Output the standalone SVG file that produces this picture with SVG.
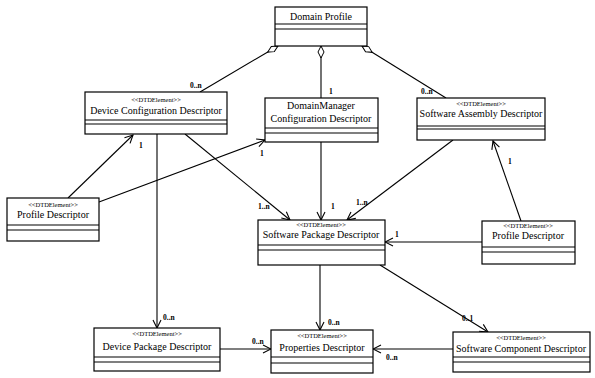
<svg xmlns="http://www.w3.org/2000/svg" width="595" height="378" viewBox="0 0 595 378">
<style>
.box{fill:#fff;stroke:#000;stroke-width:1.2}
.sep{stroke:#000;stroke-width:1.1}
.st{font-family:'Liberation Serif','DejaVu Serif','Times New Roman',serif;font-size:6.5px;text-anchor:middle}
.nm{font-family:'Liberation Serif','DejaVu Serif','Times New Roman',serif;font-size:10px;text-anchor:middle}
.lb{font-family:'Liberation Serif','DejaVu Serif','Times New Roman',serif;font-size:7.5px;font-weight:bold}
.ln{stroke:#000;stroke-width:1.1;fill:none}
</style>
<defs>
<marker id="arr" markerWidth="10" markerHeight="10" refX="9" refY="5" orient="auto" markerUnits="userSpaceOnUse">
<path d="M1,1 L9,5 L1,9" fill="none" stroke="#000" stroke-width="1.1"/>
</marker>
<marker id="dia" markerWidth="14" markerHeight="8" refX="1" refY="4" orient="auto" markerUnits="userSpaceOnUse">
<path d="M1,4 L7,1 L13,4 L7,7 Z" fill="#fff" stroke="#000" stroke-width="1"/>
</marker>
</defs>
<rect width="595" height="378" fill="#fff"/>
<g id="connectors">
<line class="ln" x1="278" y1="46" x2="200" y2="92" marker-start="url(#dia)"/>
<text class="lb" x="190" y="88">0..n</text>
<line class="ln" x1="321" y1="46" x2="321" y2="98" marker-start="url(#dia)"/>
<text class="lb" x="329" y="94">1</text>
<line class="ln" x1="362" y1="46" x2="446" y2="98" marker-start="url(#dia)"/>
<text class="lb" x="421" y="94">0..n</text>
<line class="ln" x1="68" y1="198" x2="133" y2="135" marker-end="url(#arr)"/>
<text class="lb" x="139" y="148">1</text>
<line class="ln" x1="99" y1="202" x2="265" y2="140" marker-end="url(#arr)"/>
<text class="lb" x="260" y="156">1</text>
<line class="ln" x1="157" y1="134" x2="157" y2="328" marker-end="url(#arr)"/>
<text class="lb" x="163" y="320">0..n</text>
<line class="ln" x1="185" y1="134" x2="290" y2="220" marker-end="url(#arr)"/>
<text class="lb" x="258" y="209">1..n</text>
<line class="ln" x1="321" y1="142" x2="321" y2="220" marker-end="url(#arr)"/>
<text class="lb" x="331" y="209">1</text>
<line class="ln" x1="453" y1="140" x2="347" y2="220" marker-end="url(#arr)"/>
<text class="lb" x="356" y="205">1..n</text>
<line class="ln" x1="482" y1="242" x2="385" y2="242" marker-end="url(#arr)"/>
<text class="lb" x="395" y="237">1</text>
<line class="ln" x1="521" y1="221" x2="493" y2="141" marker-end="url(#arr)"/>
<text class="lb" x="508" y="164">1</text>
<line class="ln" x1="320" y1="265" x2="320" y2="330" marker-end="url(#arr)"/>
<text class="lb" x="328" y="325">0..n</text>
<line class="ln" x1="380" y1="265" x2="488" y2="332" marker-end="url(#arr)"/>
<text class="lb" x="462" y="321">0..1</text>
<line class="ln" x1="220" y1="349" x2="271" y2="349" marker-end="url(#arr)"/>
<text class="lb" x="252" y="344">0..n</text>
<line class="ln" x1="453" y1="349" x2="373" y2="349" marker-end="url(#arr)"/>
<text class="lb" x="386" y="360">0..n</text>
</g>
<g id="domain-profile">
<rect class="box" x="275" y="7" width="92" height="39"/>
<line class="sep" x1="275" y1="24" x2="367" y2="24"/>
<line class="sep" x1="275" y1="29" x2="367" y2="29"/>
<text class="nm" x="321" y="20">Domain Profile</text>
</g>
<g id="device-configuration-descriptor">
<rect class="box" x="85" y="92" width="142" height="42"/>
<line class="sep" x1="85" y1="120" x2="227" y2="120"/>
<line class="sep" x1="85" y1="124" x2="227" y2="124"/>
<text class="st" x="156" y="102">&lt;&lt;DTDElement&gt;&gt;</text>
<text class="nm" x="156" y="114">Device Configuration Descriptor</text>
</g>
<g id="domainmanager-configuration-descriptor">
<rect class="box" x="265" y="98" width="113" height="44"/>
<line class="sep" x1="265" y1="128" x2="378" y2="128"/>
<line class="sep" x1="265" y1="133" x2="378" y2="133"/>
<text class="nm" x="321" y="109">DomainManager</text>
<text class="nm" x="321" y="122">Configuration Descriptor</text>
</g>
<g id="software-assembly-descriptor">
<rect class="box" x="417" y="98" width="128" height="42"/>
<line class="sep" x1="417" y1="126" x2="545" y2="126"/>
<line class="sep" x1="417" y1="129" x2="545" y2="129"/>
<text class="st" x="481" y="106">&lt;&lt;DTDElement&gt;&gt;</text>
<text class="nm" x="481" y="117">Software Assembly Descriptor</text>
</g>
<g id="profile-descriptor-left">
<rect class="box" x="7" y="198" width="92" height="43"/>
<line class="sep" x1="7" y1="225" x2="99" y2="225"/>
<line class="sep" x1="7" y1="230" x2="99" y2="230"/>
<text class="st" x="53" y="207">&lt;&lt;DTDElement&gt;&gt;</text>
<text class="nm" x="53" y="218">Profile Descriptor</text>
</g>
<g id="software-package-descriptor">
<rect class="box" x="258" y="220" width="127" height="45"/>
<line class="sep" x1="258" y1="245" x2="385" y2="245"/>
<line class="sep" x1="258" y1="250" x2="385" y2="250"/>
<text class="st" x="321" y="227">&lt;&lt;DTDElement&gt;&gt;</text>
<text class="nm" x="321" y="238">Software Package Descriptor</text>
</g>
<g id="profile-descriptor-right">
<rect class="box" x="482" y="221" width="93" height="43"/>
<line class="sep" x1="482" y1="247" x2="575" y2="247"/>
<line class="sep" x1="482" y1="252" x2="575" y2="252"/>
<text class="st" x="528" y="228">&lt;&lt;DTDElement&gt;&gt;</text>
<text class="nm" x="528" y="239">Profile Descriptor</text>
</g>
<g id="device-package-descriptor">
<rect class="box" x="94" y="328" width="126" height="43"/>
<line class="sep" x1="94" y1="357" x2="220" y2="357"/>
<line class="sep" x1="94" y1="362" x2="220" y2="362"/>
<text class="st" x="157" y="336">&lt;&lt;DTDElement&gt;&gt;</text>
<text class="nm" x="157" y="350">Device Package Descriptor</text>
</g>
<g id="properties-descriptor">
<rect class="box" x="271" y="330" width="102" height="43"/>
<line class="sep" x1="271" y1="357" x2="373" y2="357"/>
<line class="sep" x1="271" y1="363" x2="373" y2="363"/>
<text class="st" x="322" y="338">&lt;&lt;DTDElement&gt;&gt;</text>
<text class="nm" x="322" y="351">Properties Descriptor</text>
</g>
<g id="software-component-descriptor">
<rect class="box" x="453" y="332" width="137" height="40"/>
<line class="sep" x1="453" y1="357" x2="590" y2="357"/>
<line class="sep" x1="453" y1="362" x2="590" y2="362"/>
<text class="st" x="521" y="340">&lt;&lt;DTDElement&gt;&gt;</text>
<text class="nm" x="521" y="352">Software Component Descriptor</text>
</g>
</svg>
